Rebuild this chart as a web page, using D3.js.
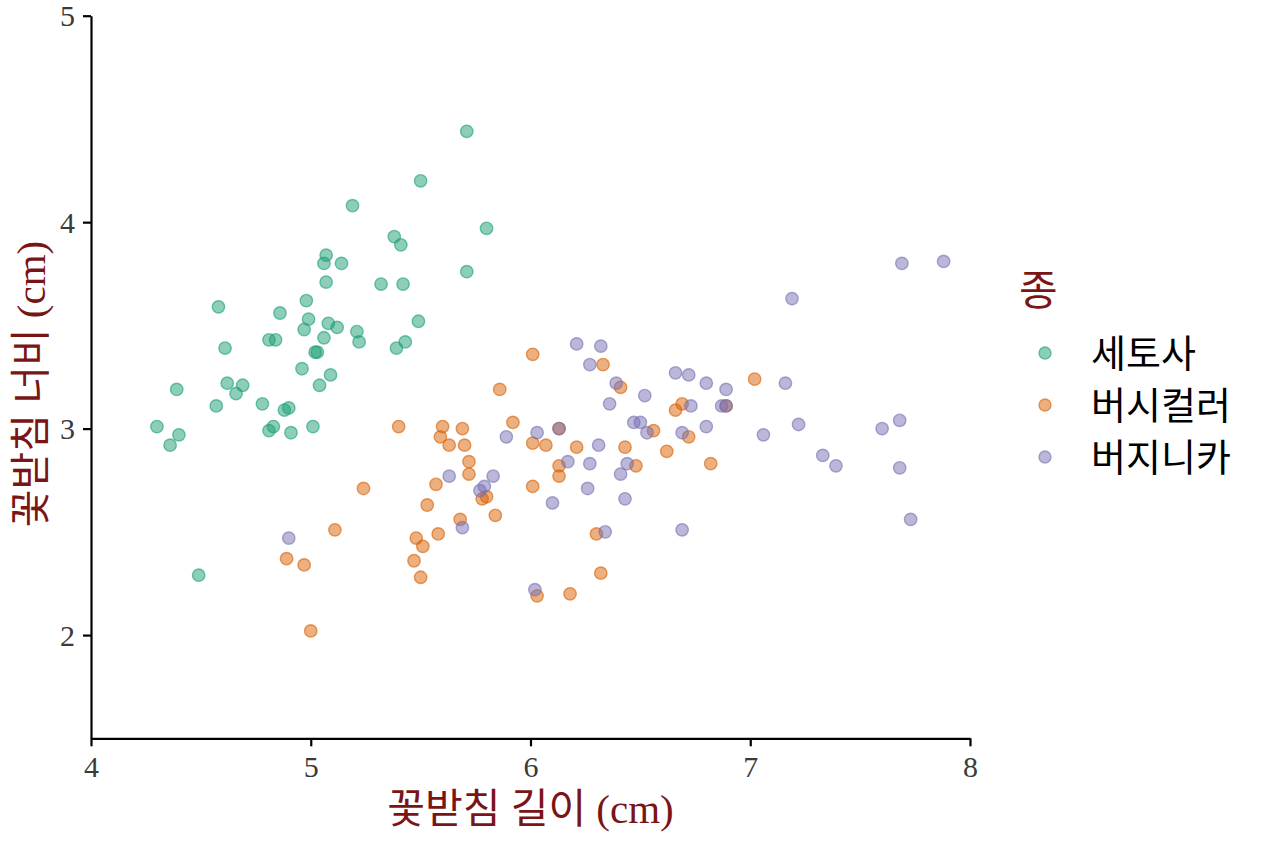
<!DOCTYPE html>
<html><head><meta charset="utf-8">
<script src="https://cdn.jsdelivr.net/npm/d3@7"></script>
<style>
html,body{margin:0;padding:0;background:#fff;}
svg{display:block;}
</style></head>
<body>
<svg id="chart" width="1264" height="843"></svg>
<script>
const species = ["세토사", "버시컬러", "버지니카"];
const colors = ["#1b9e77", "#d95f02", "#7570b3"];
const xTicks = [4, 5, 6, 7, 8];
const yTicks = [2, 3, 4, 5];

const setosaX = [5.71,5.50,5.19,5.80,5.38,5.41,5.07,5.06,5.14,5.71,5.07,5.32,5.42,4.58,4.86,4.98,4.99,5.08,5.12,5.49,4.97,5.21,4.81,4.84,5.06,5.22,5.43,5.39,4.61,5.02,5.03,4.96,5.09,5.04,4.39,4.62,4.69,4.66,4.57,4.78,4.88,4.90,4.30,4.40,4.36,4.81,4.83,4.91,5.01,4.49];
const setosaY = [4.44,4.20,4.08,3.97,3.93,3.89,3.84,3.80,3.80,3.76,3.71,3.70,3.70,3.59,3.56,3.62,3.53,3.51,3.49,3.52,3.48,3.47,3.43,3.43,3.44,3.42,3.42,3.39,3.39,3.37,3.37,3.29,3.26,3.21,3.19,3.22,3.21,3.17,3.11,3.12,3.09,3.10,3.01,2.97,2.92,2.99,3.01,2.98,3.01,2.29];

const versicolorX = [6.01,6.33,5.86,6.41,7.02,6.69,6.66,6.89,5.92,5.40,5.60,5.59,5.69,5.63,5.70,5.72,5.72,6.13,6.01,6.07,6.21,6.43,6.56,6.72,6.62,6.48,6.13,6.13,6.01,6.82,5.57,5.24,5.53,5.78,5.80,5.84,5.68,5.58,5.11,5.48,5.51,4.89,4.97,5.47,5.50,5.00,6.30,6.32,6.18,6.03];
const versicolorY = [3.36,3.31,3.19,3.20,3.24,3.12,3.09,3.11,3.03,3.01,3.01,2.96,3.00,2.92,2.92,2.84,2.78,3.00,2.93,2.92,2.91,2.91,2.99,2.96,2.89,2.82,2.82,2.77,2.72,2.83,2.73,2.71,2.63,2.66,2.67,2.58,2.56,2.49,2.51,2.47,2.43,2.37,2.34,2.36,2.28,2.02,2.49,2.30,2.20,2.19];

const virginicaX = [5.89,5.63,5.83,5.77,5.79,5.69,4.90,6.02,6.21,6.32,6.27,6.39,6.52,6.36,6.66,6.72,6.80,6.89,6.73,6.89,6.87,6.03,6.13,6.47,6.50,6.53,6.69,6.80,6.31,6.17,6.27,6.44,6.41,6.26,6.43,6.10,6.34,6.69,7.06,7.69,7.88,7.19,7.16,7.22,7.60,7.68,7.33,7.39,7.68,7.73];
const virginicaY = [2.96,2.77,2.77,2.70,2.72,2.52,2.47,2.22,3.41,3.40,3.31,3.22,3.16,3.12,3.27,3.26,3.22,3.19,3.11,3.11,3.11,2.98,3.00,3.03,3.03,2.98,2.98,3.01,2.92,2.84,2.83,2.83,2.78,2.71,2.66,2.64,2.50,2.51,2.97,3.80,3.81,3.63,3.22,3.02,3.00,3.04,2.87,2.82,2.81,2.56];

const seriesX = [setosaX, versicolorX, virginicaX];
const seriesY = [setosaY, versicolorY, virginicaY];

(function () {
const points = [];
species.forEach((s, i) => {
  seriesX[i].forEach((xv, j) => points.push({ s: i, x: xv, y: seriesY[i][j] }));
});

const svg = d3.select("#chart");
const mLeft = 91, mRight = 970, mTop = 15.7, mBottom = 738.3;

const x = d3.scaleLinear().domain([4, 8]).range([mLeft, mRight]);
const y = d3.scaleLinear().domain([1.5, 5]).range([mBottom, mTop]);

const serif = "'Liberation Serif', 'Times New Roman', serif";
const mixed = "'Liberation Serif', 'Noto Sans CJK KR', serif";
const sansKR = "'Noto Sans CJK KR', 'Noto Sans', sans-serif";
const titleColor = "#7a1515";

// points
svg.append("g").selectAll("circle").data(points).join("circle")
  .attr("cx", d => x(d.x))
  .attr("cy", d => y(d.y))
  .attr("r", 6.2)
  .attr("fill", d => colors[d.s])
  .attr("fill-opacity", 0.5)
  .attr("stroke", d => colors[d.s])
  .attr("stroke-opacity", 0.6)
  .attr("stroke-width", 1.4);

// axes
const fmt = d3.format("d");
const xAxis = svg.append("g").attr("transform", `translate(0,${mBottom})`)
  .call(d3.axisBottom(x).tickValues(xTicks).tickFormat(fmt).tickSize(8).tickPadding(9).tickSizeOuter(0));
const yAxis = svg.append("g").attr("transform", `translate(${mLeft},0)`)
  .call(d3.axisLeft(y).tickValues(yTicks).tickFormat(fmt).tickSize(8).tickPadding(8).tickSizeOuter(0));

[xAxis, yAxis].forEach(g => {
  g.attr("font-family", serif).attr("font-size", 30);
  g.select(".domain").attr("stroke", "#000").attr("stroke-width", 2.2);
  g.selectAll(".tick line").attr("stroke", "#000").attr("stroke-width", 2.2);
  g.selectAll(".tick text").attr("fill", "#3a3a3a")
    .style("font-family", serif).style("font-size", "30px");
});
xAxis.selectAll(".tick text").attr("dy", "0.72em");
yAxis.selectAll(".tick text").attr("dy", "0.34em");

// axis titles
svg.append("text")
  .attr("x", (mLeft + mRight) / 2)
  .attr("y", 823)
  .attr("text-anchor", "middle")
  .attr("fill", titleColor)
  .style("font-family", mixed)
  .style("font-size", "41px")
  .text("꽃받침 길이 (cm)");

svg.append("text")
  .attr("transform", `translate(45,384) rotate(-90)`)
  .attr("text-anchor", "middle")
  .attr("fill", titleColor)
  .style("font-family", mixed)
  .style("font-size", "41px")
  .text("꽃받침 너비 (cm)");

// legend
svg.append("text")
  .attr("x", 1019)
  .attr("y", 305)
  .attr("fill", titleColor)
  .style("font-family", sansKR)
  .style("font-size", "42px")
  .text("종");

const legend = svg.append("g").selectAll("g").data(species).join("g")
  .attr("transform", (d, i) => `translate(1045,${353 + i * 52})`);
legend.append("circle")
  .attr("r", 6)
  .attr("fill", (d, i) => colors[i])
  .attr("fill-opacity", 0.5)
  .attr("stroke", (d, i) => colors[i])
  .attr("stroke-opacity", 0.6)
  .attr("stroke-width", 1.4);
legend.append("text")
  .attr("x", 46)
  .attr("y", 0)
  .attr("dy", "0.36em")
  .attr("fill", "#000")
  .style("font-family", sansKR)
  .style("font-size", "38px")
  .text(d => d);
})();
</script>
</body></html>
